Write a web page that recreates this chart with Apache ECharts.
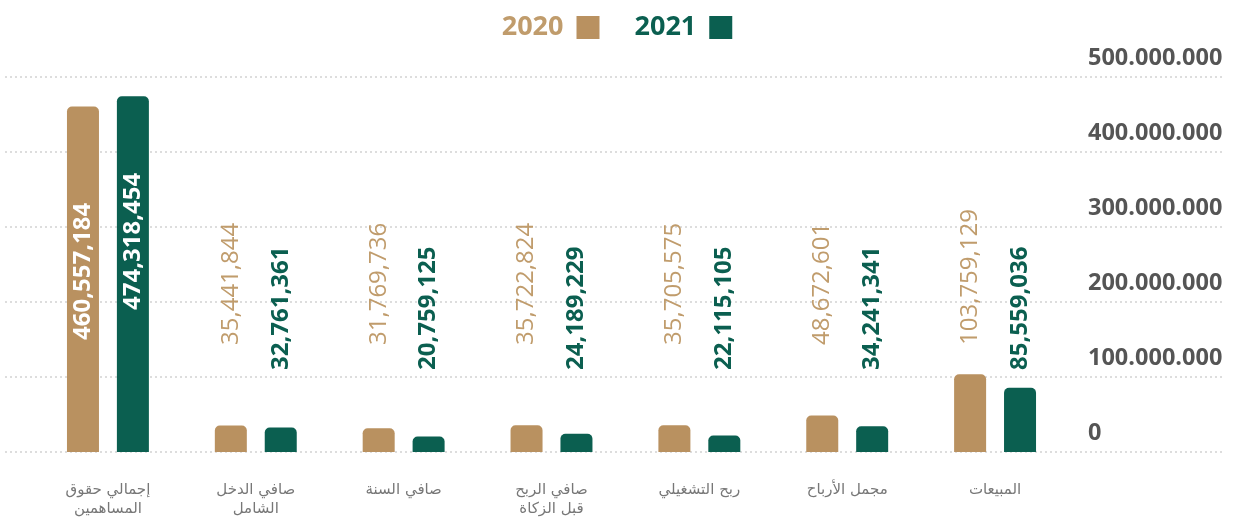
<!DOCTYPE html>
<html><head><meta charset="utf-8">
<script src="https://cdn.jsdelivr.net/npm/echarts@6/dist/echarts.min.js"></script>
<style>html,body{margin:0;padding:0;background:#fff}#c{width:1234px;height:522px}</style>
</head><body><div id="c"></div>
<script>
// ---- data ----
const categories = ['المبيعات', 'مجمل الأرباح', 'ربح التشغيلي', 'صافي الربح\nقبل الزكاة', 'صافي السنة', 'صافي الدخل\nالشامل', 'إجمالي حقوق\nالمساهمين'];
const seriesNames = ['2020', '2021'];
const values2020 = [103759129, 48672601, 35705575, 35722824, 31769736, 35441844, 460557184];
const values2021 = [85559036, 34241341, 22115105, 24189229, 20759125, 32761361, 474318454];
const yTicks = [0, 100000000, 200000000, 300000000, 400000000, 500000000];

// ---- styling ----
const TAN = '#b99160', TAN_TEXT = '#c09c6c', GREEN = '#0b5f50';
const yMin = yTicks[0], yMax = yTicks[yTicks.length - 1], yInt = yTicks[1] - yTicks[0];
const fmtComma = v => Number(v).toLocaleString('en-US');
const fmtDot = v => Number(v).toLocaleString('en-US').replace(/,/g, '.');
const bigIdx2020 = values2020.indexOf(Math.max(...values2020));
const bigIdx2021 = values2021.indexOf(Math.max(...values2021));

function buildData(vals, bigIdx, bigDist) {
  return vals.map((v, i) => i === bigIdx ? {
    value: v,
    label: { color: '#ffffff', fontWeight: 'bold', distance: bigDist }
  } : v);
}

const baseLabel = {
  show: true, position: 'insideBottom', rotate: 90, align: 'left', verticalAlign: 'middle',
  fontSize: 24, fontFamily: 'Open Sans', formatter: p => fmtComma(p.value)
};

const chart = echarts.init(document.getElementById('c'), null, { renderer: 'canvas' });
chart.setOption({
  animation: false,
  backgroundColor: '#ffffff',
  legend: {
    top: 9, left: 'center', align: 'right', icon: 'rect', itemWidth: 23, itemHeight: 23, itemGap: 35,
    textStyle: { fontSize: 27, fontWeight: 'bold', fontFamily: 'Open Sans', padding: [0, 8, 0, 0] },
    data: [
      { name: seriesNames[0], textStyle: { color: TAN_TEXT } },
      { name: seriesNames[1], textStyle: { color: GREEN } }
    ]
  },
  grid: [
    { left: 5, right: 9, top: 77, bottom: 70 },
    { left: 34, right: 165, top: 77, bottom: 70 }
  ],
  xAxis: [
    { gridIndex: 0, type: 'value', show: false, min: 0, max: 1 },
    {
      gridIndex: 1, type: 'category', data: categories, inverse: true,
      axisLine: { show: false }, axisTick: { show: false },
      axisLabel: { interval: 0, color: '#777', fontSize: 15, lineHeight: 19, margin: 29, fontFamily: "'DejaVu Sans', sans-serif" }
    }
  ],
  yAxis: [
    {
      gridIndex: 0, type: 'value', min: yMin, max: yMax, interval: yInt,
      axisLine: { show: false }, axisTick: { show: false }, axisLabel: { show: false },
      splitLine: { show: true, lineStyle: { color: '#d2d2d2', width: 1.5, type: [2, 3] } }
    },
    {
      gridIndex: 1, type: 'value', position: 'right', min: yMin, max: yMax, interval: yInt,
      axisLine: { show: false }, axisTick: { show: false }, splitLine: { show: false },
      axisLabel: {
        margin: 19, align: 'left', verticalAlign: 'bottom', padding: [0, 0, 7, 0],
        color: '#555', fontSize: 23.5, fontWeight: 'bold', fontFamily: 'Open Sans', formatter: v => fmtDot(v)
      }
    }
  ],
  series: [
    {
      name: seriesNames[0], type: 'bar', xAxisIndex: 1, yAxisIndex: 1,
      barWidth: 32, barGap: '56%',
      itemStyle: { color: TAN, borderRadius: [5, 5, 0, 0] },
      label: Object.assign({}, baseLabel, { color: TAN_TEXT, distance: 107 }),
      data: buildData(values2020, bigIdx2020, 112)
    },
    {
      name: seriesNames[1], type: 'bar', xAxisIndex: 1, yAxisIndex: 1,
      barWidth: 32, barGap: '56%',
      itemStyle: { color: GREEN, borderRadius: [5, 5, 0, 0] },
      label: Object.assign({}, baseLabel, { color: GREEN, fontWeight: 'bold', distance: 82 }),
      data: buildData(values2021, bigIdx2021, 142)
    }
  ]
});
</script></body></html>
